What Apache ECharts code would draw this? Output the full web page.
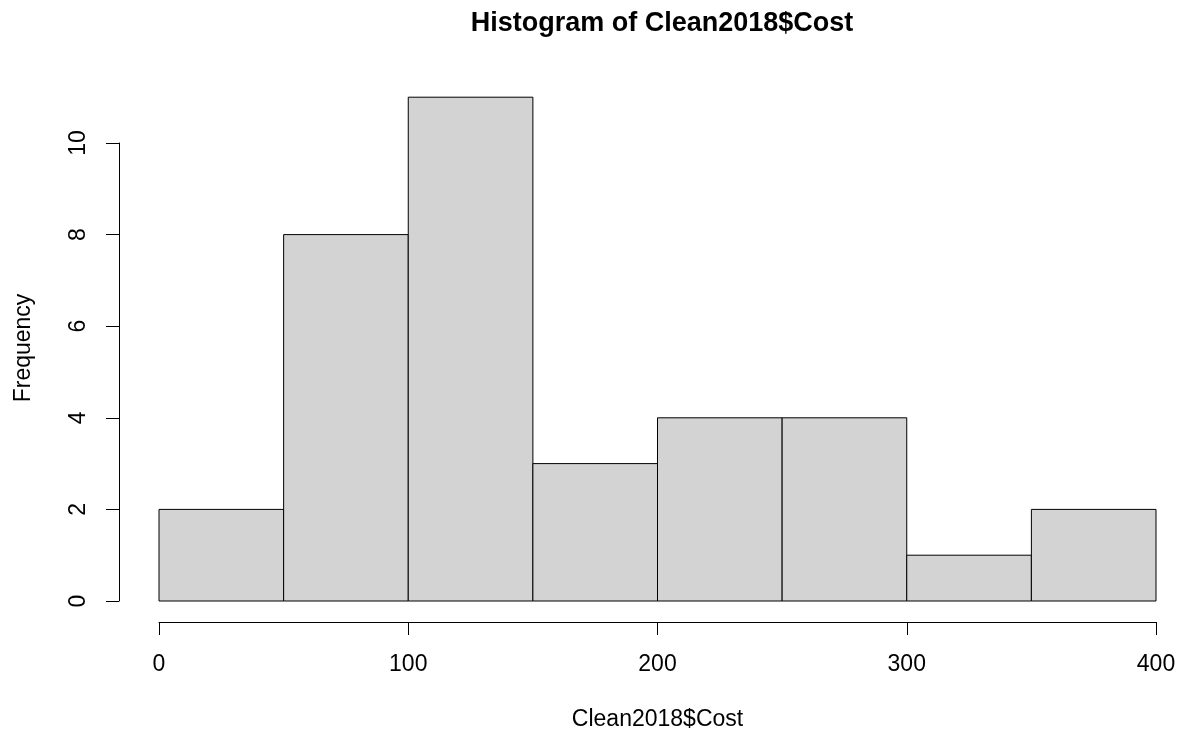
<!DOCTYPE html>
<html>
<head>
<meta charset="utf-8">
<script src="https://cdn.jsdelivr.net/npm/echarts@6/dist/echarts.min.js"></script>
<style>
html,body{margin:0;padding:0;background:#fff;}
#chart{width:1181px;height:736px;}
</style>
</head>
<body>
<div id="chart"></div>
<script>
var titleText = 'Histogram of Clean2018$Cost';
var xName = 'Clean2018$Cost';
var yName = 'Frequency';
var binEdges = [0, 50, 100, 150, 200, 250, 300, 350, 400];
var counts = [2, 8, 11, 3, 4, 4, 1, 2];
var xTicks = [0, 100, 200, 300, 400];
var yTicks = [0, 2, 4, 6, 8, 10];

var FONT = '"Liberation Sans", Arial, sans-serif';
var data = counts.map(function (c, i) { return [binEdges[i], binEdges[i + 1], c]; });

var chart = echarts.init(document.getElementById('chart'), null, {renderer: 'canvas'});
chart.setOption({
  backgroundColor: '#ffffff',
  animation: false,
  title: {
    text: titleText,
    left: 657,
    textAlign: 'center',
    top: 5,
    textStyle: {fontFamily: FONT, fontSize: 27, fontWeight: 'bold', color: '#000'}
  },
  grid: {left: 159, right: 25, top: 143, bottom: 135, containLabel: false},
  xAxis: {
    type: 'value',
    min: xTicks[0], max: xTicks[xTicks.length - 1], interval: 100,
    offset: 21,
    name: xName, nameLocation: 'middle', nameGap: 86,
    nameTextStyle: {fontFamily: FONT, fontSize: 23, color: '#000'},
    axisLine: {show: true, onZero: false, lineStyle: {color: '#000', width: 1}},
    axisTick: {show: true, length: 13, lineStyle: {color: '#000', width: 1}},
    axisLabel: {show: true, margin: 31, fontFamily: FONT, fontSize: 23, color: '#000'},
    splitLine: {show: false}
  },
  yAxis: {
    type: 'value',
    min: yTicks[0], max: yTicks[yTicks.length - 1], interval: 2,
    offset: 40,
    name: yName, nameLocation: 'middle', nameGap: 84,
    nameTextStyle: {fontFamily: FONT, fontSize: 23, color: '#000', padding: [0, 0, 0, 48]},
    axisLine: {show: true, onZero: false, lineStyle: {color: '#000', width: 1}},
    axisTick: {show: true, length: 13, lineStyle: {color: '#000', width: 1}},
    axisLabel: {show: true, rotate: 90, margin: 29, fontFamily: FONT, fontSize: 23, color: '#000'},
    splitLine: {show: false}
  },
  series: [{
    type: 'custom',
    clip: false,
    data: data,
    renderItem: function (params, api) {
      var p0 = api.coord([api.value(0), api.value(2)]);
      var p1 = api.coord([api.value(1), 0]);
      return {
        type: 'rect',
        shape: {x: p0[0], y: p0[1], width: p1[0] - p0[0], height: p1[1] - p0[1]},
        style: {fill: '#d3d3d3', stroke: '#000', lineWidth: 1}
      };
    }
  }]
});
</script>
</body>
</html>
